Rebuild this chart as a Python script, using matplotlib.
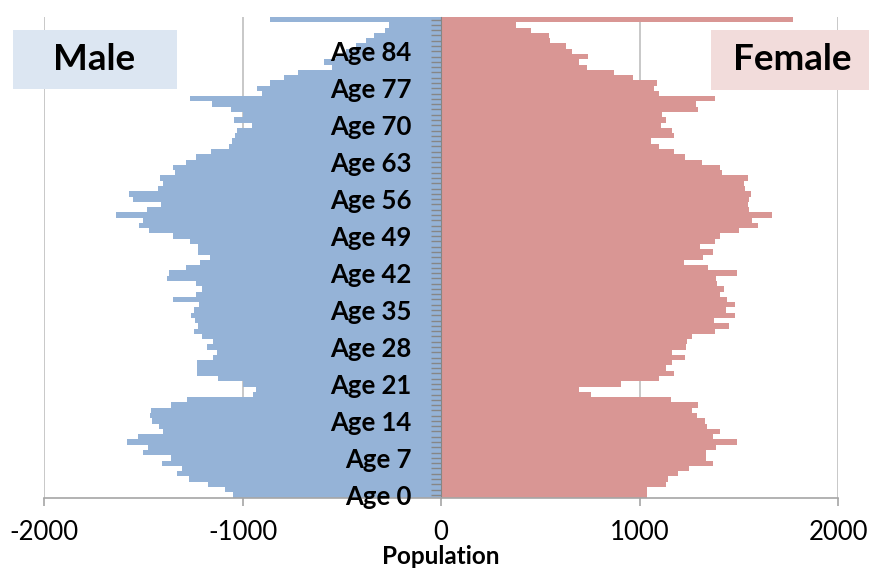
import numpy as np
import matplotlib
matplotlib.use("Agg")
import matplotlib.pyplot as plt
from matplotlib.patches import Rectangle

plt.rcParams['font.family'] = ['Lato', 'DejaVu Sans']

# ─── data ────────────────────────────────────────────────────────────────────
ages = list(range(0, 91))

male = [
    -1049, -1088, -1172, -1272, -1328, -1306, -1406, -1361, -1499, -1474,
    -1583, -1524, -1401, -1423, -1457, -1465, -1462, -1361, -1281, -945,
    -933, -995, -1121, -1230, -1230, -1230, -1147, -1130, -1177, -1150,
    -1205, -1242, -1225, -1239, -1260, -1242, -1217, -1351, -1234, -1202,
    -1234, -1381, -1368, -1284, -1213, -1163, -1222, -1222, -1264, -1351,
    -1469, -1519, -1502, -1638, -1482, -1410, -1554, -1574, -1428, -1398,
    -1418, -1340, -1349, -1284, -1234, -1158, -1066, -1054, -1037, -1026,
    -953, -1042, -998, -1057, -1153, -1264, -903, -926, -861, -790,
    -720, -550, -589, -530, -480, -430, -380, -337, -282, -260,
    -861,
]

female = [
    1040, 1036, 1136, 1145, 1195, 1249, 1371, 1334, 1334, 1383,
    1490, 1371, 1405, 1338, 1329, 1292, 1267, 1296, 1157, 754,
    697, 906, 1100, 1175, 1133, 1165, 1229, 1165, 1234, 1237,
    1267, 1380, 1450, 1375, 1480, 1435, 1480, 1442, 1408, 1425,
    1389, 1385, 1490, 1346, 1224, 1320, 1368, 1304, 1380, 1405,
    1502, 1598, 1568, 1665, 1552, 1547, 1552, 1561, 1531, 1527,
    1549, 1418, 1405, 1316, 1229, 1175, 1099, 1056, 1175, 1165,
    1108, 1131, 1114, 1297, 1287, 1380, 1098, 1073, 1089, 965,
    873, 734, 697, 739, 661, 629, 549, 546, 453, 376,
    1774,
]

age_labels = [f"Age {a}" if a % 7 == 0 else "" for a in ages]
x_ticks = [-2000, -1000, 0, 1000, 2000]

MALE_COLOR = "#95B3D7"
FEMALE_COLOR = "#D99694"
GRID_COLOR = "#BFBFBF"

# ─── figure ──────────────────────────────────────────────────────────────────
fig = plt.figure(figsize=(8.69, 5.70), dpi=100)
ax = fig.add_axes([44 / 869, 1 - 497.5 / 570, 794 / 869, 480.5 / 570])

ax.barh(ages, male, height=1.0, color=MALE_COLOR, linewidth=0)
ax.barh(ages, female, height=1.0, color=FEMALE_COLOR, linewidth=0)

ax.set_xlim(-2000, 2000)
ax.set_ylim(-0.5, 90.5)

# gridlines behind the bars, but keep the age ticks on top
ax.set_axisbelow(True)
ax.xaxis.grid(True, color=GRID_COLOR, linewidth=1.2)
ax.yaxis.set_zorder(2.5)

for s in ("top", "right"):
    ax.spines[s].set_visible(False)
ax.spines["left"].set_position(("data", 0))
ax.spines["left"].set_color("#868686")
ax.spines["bottom"].set_color("#A6A6A6")
ax.spines["bottom"].set_linewidth(1.2)

ax.set_xticks(x_ticks)
ax.set_xticklabels([str(v) for v in x_ticks])
ax.tick_params(axis="x", direction="out", length=6, width=1.2, color="#A6A6A6",
               labelsize=18.5, pad=10.5)

ax.set_yticks(ages)
ax.set_yticklabels(age_labels)
ax.tick_params(axis="y", direction="out", length=7, width=1.0, color="#868686",
               labelsize=18.5, pad=14)
for lbl in ax.get_yticklabels():
    lbl.set_fontweight("bold")

ax.set_xlabel("Population", fontsize=17.5, fontweight="bold", labelpad=0)

# ─── legend boxes ────────────────────────────────────────────────────────────
fig.patches.append(Rectangle((13 / 869, 1 - 89 / 570), 164 / 869, 59 / 570,
                             transform=fig.transFigure, facecolor="#DCE6F2",
                             edgecolor="none", zorder=5))
fig.patches.append(Rectangle((711 / 869, 1 - 90 / 570), 158 / 869, 60 / 570,
                             transform=fig.transFigure, facecolor="#F2DCDB",
                             edgecolor="none", zorder=5))
fig.text(94 / 869, 1 - 60 / 570, "Male", ha="center", va="center",
         fontsize=26.5, fontweight="bold", zorder=6)
fig.text(792 / 869, 1 - 60 / 570, "Female", ha="center", va="center",
         fontsize=26.5, fontweight="bold", zorder=6)

fig.savefig("out.png", dpi=100)
